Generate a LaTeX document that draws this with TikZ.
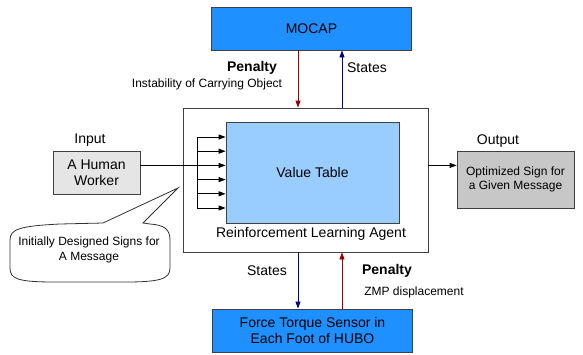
\documentclass[tikz,border=0pt]{standalone}
\usepackage{fontspec}
\setmainfont{Liberation Sans}
\usetikzlibrary{arrows.meta}

\definecolor{sensorblue}{RGB}{30,144,255}
\definecolor{tableblue}{RGB}{153,204,255}
\definecolor{penaltyred}{RGB}{150,0,0}
\definecolor{statesblue}{RGB}{0,0,140}

\tikzstyle{big}=[font=\fontsize{14}{16.5}\selectfont]
\tikzstyle{small}=[font=\fontsize{12}{14.5}\selectfont]
\tikzstyle{box}=[rectangle, draw=black!75, line width=0.8pt, inner sep=0pt, align=center]
\tikzstyle{sensor}=[box, big, fill=sensorblue, minimum width=200pt, minimum height=43pt]
\tikzstyle{person}=[box, big, fill=black!10, minimum width=87pt, minimum height=43pt]
\tikzstyle{result}=[box, small, fill=black!22, minimum width=117pt, minimum height=57pt]
\tikzstyle{tip}=[-{Triangle[length=7pt,width=5pt]}]
\tikzstyle{penalty}=[tip, penaltyred, line width=0.8pt]
\tikzstyle{states}=[tip, statesblue, line width=0.8pt]

\begin{document}
\begin{tikzpicture}[x=1pt, y=-1pt]
	\useasboundingbox (0,0) rectangle (583,354);

	% Sensors
	\node[sensor] (mocap) at (311.5, 28.5) {MOCAP};
	\node[sensor] (fts) at (312.5,330.5) {Force Torque Sensor in\\Each Foot of HUBO};

	% Agent and its value table
	\node[box, minimum width=245pt, minimum height=144pt] (agent) at (305.5,180) {};
	\node[box, big, fill=tableblue, minimum width=173pt, minimum height=101pt] (table) at (312.5,172.5) {Value Table};
	\node[big] (agentname) at (311,234) {Reinforcement Learning Agent};

	% Input and output
	\node[person] (worker) at (96.5,172.5) {A Human\\Worker};
	\node[big] (input) at (90,140) {Input};
	\node[result] (output) at (515.5,179.5) {Optimized Sign for\\a Given Message};
	\node[big] (outlabel) at (498,141) {Output};

	% Fan of inputs into the table
	\foreach \i in {0,...,5}{
		\coordinate (fan\i) at (197, 137+14.2*\i);
		\draw[tip, line width=0.8pt] (fan\i) -- (fan\i -| table.west);
	}
	\draw[line width=0.8pt] (fan0) -- (fan5);
	\draw[line width=0.8pt] (worker.east |- fan2) -- (fan2);
	\draw[tip, line width=0.8pt] (agent.east |- fan2) -- (output.west |- fan2);

	% Top loop
	\coordinate (left) at (298,0);
	\coordinate (right) at (342,0);
	\draw[penalty] (mocap.south -| left) -- (agent.north -| left);
	\draw[states] (agent.north -| right) -- (mocap.south -| right);
	\node[big, font=\fontsize{14}{16}\selectfont\bfseries] (toppen) at (252,68) {Penalty};
	\node[small] (topwhy) at (207,84) {Instability of Carrying Object};
	\node[big] (topstates) at (367,68) {States};

	% Bottom loop
	\draw[states] (agent.south -| left) -- (fts.north -| left);
	\draw[penalty] (fts.north -| right) -- (agent.south -| right);
	\node[big] (botstates) at (267,271) {States};
	\node[big, font=\fontsize{14}{16}\selectfont\bfseries] (botpen) at (387,271) {Penalty};
	\node[small] (botwhy) at (414,292) {ZMP displacement};

	% Callout
	\coordinate (pointer) at (178,188);
	\draw[line width=0.8pt, black!80, fill=white] (10,240) .. controls (10,229) and (20,226) .. (60,224) -- (103,223) -- (pointer) -- (143,223)
		-- (150,224) .. controls (164,225) and (170,229) .. (170,240) -- (170,268)
		.. controls (170,279) and (160,282) .. (125,282) -- (55,282)
		.. controls (18,282) and (10,279) .. (10,268) -- cycle;
	\node[small, align=center] (note) at (89,250) {Initially Designed Signs for\\A Message};
\end{tikzpicture}
\end{document}
